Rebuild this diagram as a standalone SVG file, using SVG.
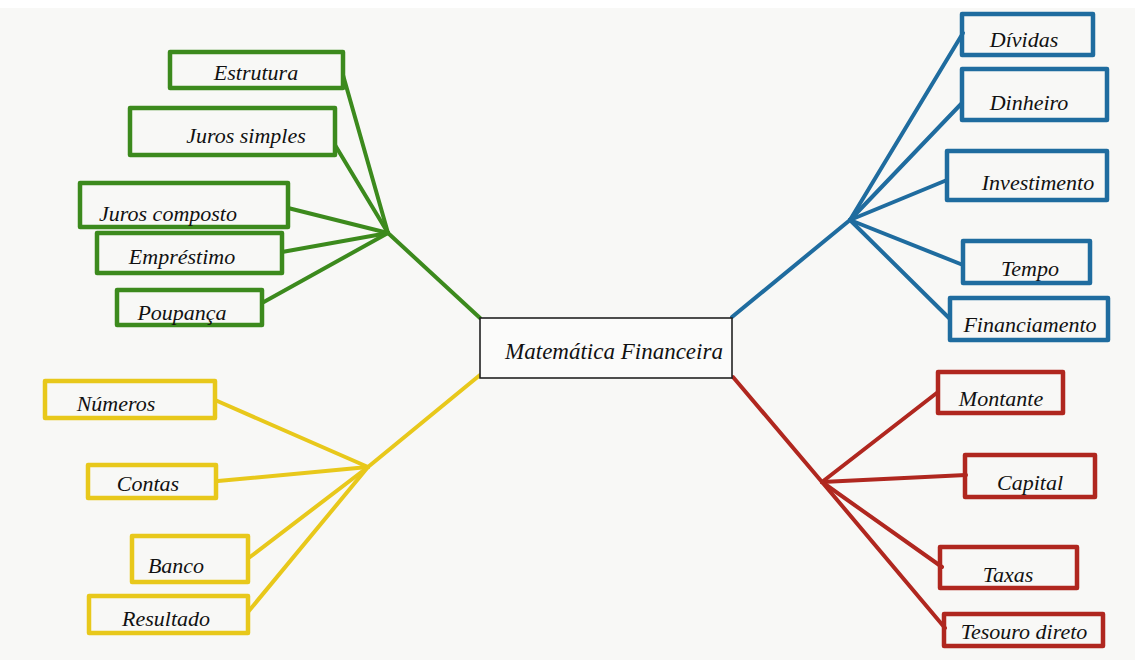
<svg xmlns="http://www.w3.org/2000/svg" width="1135" height="660" viewBox="0 0 1135 660">
<style>
  .bg{fill:#f8f8f6}
  .box{fill:none;stroke-width:4.5;stroke-linejoin:round}
  .g{stroke:#3c8a1d}
  .b{stroke:#1f6c9f}
  .y{stroke:#e8c81b}
  .r{stroke:#b0271f}
  .ln{fill:none;stroke-width:4;stroke-linecap:round}
  .t{font-family:"Liberation Serif","DejaVu Serif",serif;font-style:italic;font-size:22px;fill:#111;text-anchor:middle}
  .center{fill:#fbfbfa;stroke:#222;stroke-width:1.6}
</style>
<rect class="bg" x="0" y="0" width="1135" height="660"/>
<rect x="0" y="0" width="1135" height="8" fill="#ffffff"/>

<g id="connectors">
  <path class="ln g" d="M480,318 L388,233"/>
  <path class="ln g" d="M388,233 L343,75"/>
  <path class="ln g" d="M388,233 L335,145"/>
  <path class="ln g" d="M388,233 L288,208"/>
  <path class="ln g" d="M388,233 L282,252"/>
  <path class="ln g" d="M388,233 L262,303"/>
  <path class="ln b" d="M732,317 L850,220"/>
  <path class="ln b" d="M850,220 L963,33"/>
  <path class="ln b" d="M850,220 L962,103"/>
  <path class="ln b" d="M850,220 L947,180"/>
  <path class="ln b" d="M850,220 L963,265"/>
  <path class="ln b" d="M850,220 L949,318"/>
  <path class="ln y" d="M480,375 L368,467"/>
  <path class="ln y" d="M368,467 L215,400"/>
  <path class="ln y" d="M368,467 L218,481"/>
  <path class="ln y" d="M368,467 L250,557"/>
  <path class="ln y" d="M368,467 L248,612"/>
  <path class="ln r" d="M733,377 L822,482"/>
  <path class="ln r" d="M822,482 L938,392"/>
  <path class="ln r" d="M822,482 L966,475"/>
  <path class="ln r" d="M822,482 L942,567"/>
  <path class="ln r" d="M822,482 L945,628"/>
</g>

<g id="n-center">
  <rect class="center" x="480" y="318" width="252" height="60"/>
  <text class="t" x="614" y="359" style="font-size:23px">Matemática Financeira</text>
</g>

<g id="n-estrutura">
  <rect class="box g" x="170" y="52" width="173" height="36"/>
  <text class="t" x="256" y="80">Estrutura</text>
</g>
<g id="n-juros-simples">
  <rect class="box g" x="130" y="108" width="205" height="47"/>
  <text class="t" x="246" y="143">Juros simples</text>
</g>
<g id="n-juros-composto">
  <rect class="box g" x="80" y="183" width="208" height="44"/>
  <text class="t" x="168" y="221">Juros composto</text>
</g>
<g id="n-emprestimo">
  <rect class="box g" x="97" y="233" width="185" height="40"/>
  <text class="t" x="182" y="264">Empréstimo</text>
</g>
<g id="n-poupanca">
  <rect class="box g" x="117" y="290" width="145" height="35"/>
  <text class="t" x="182" y="320">Poupança</text>
</g>

<g id="n-dividas">
  <rect class="box b" x="962" y="14" width="131" height="41"/>
  <text class="t" x="1024" y="47">Dívidas</text>
</g>
<g id="n-dinheiro">
  <rect class="box b" x="962" y="69" width="145" height="51"/>
  <text class="t" x="1029" y="110">Dinheiro</text>
</g>
<g id="n-investimento">
  <rect class="box b" x="947" y="151" width="160" height="49"/>
  <text class="t" x="1038" y="190">Investimento</text>
</g>
<g id="n-tempo">
  <rect class="box b" x="963" y="241" width="127" height="42"/>
  <text class="t" x="1030" y="276">Tempo</text>
</g>
<g id="n-financiamento">
  <rect class="box b" x="950" y="298" width="158" height="42"/>
  <text class="t" x="1030" y="332">Financiamento</text>
</g>

<g id="n-numeros">
  <rect class="box y" x="45" y="381" width="170" height="37"/>
  <text class="t" x="116" y="411">Números</text>
</g>
<g id="n-contas">
  <rect class="box y" x="88" y="465" width="128" height="33"/>
  <text class="t" x="148" y="491">Contas</text>
</g>
<g id="n-banco">
  <rect class="box y" x="132" y="536" width="116" height="46"/>
  <text class="t" x="176" y="573">Banco</text>
</g>
<g id="n-resultado">
  <rect class="box y" x="89" y="596" width="159" height="37"/>
  <text class="t" x="166" y="626">Resultado</text>
</g>

<g id="n-montante">
  <rect class="box r" x="938" y="372" width="125" height="41"/>
  <text class="t" x="1001" y="406">Montante</text>
</g>
<g id="n-capital">
  <rect class="box r" x="965" y="455" width="130" height="42"/>
  <text class="t" x="1030" y="490">Capital</text>
</g>
<g id="n-taxas">
  <rect class="box r" x="940" y="547" width="137" height="41"/>
  <text class="t" x="1008" y="582">Taxas</text>
</g>
<g id="n-tesouro">
  <rect class="box r" x="944" y="614" width="159" height="32"/>
  <text class="t" x="1024" y="639">Tesouro direto</text>
</g>
</svg>
